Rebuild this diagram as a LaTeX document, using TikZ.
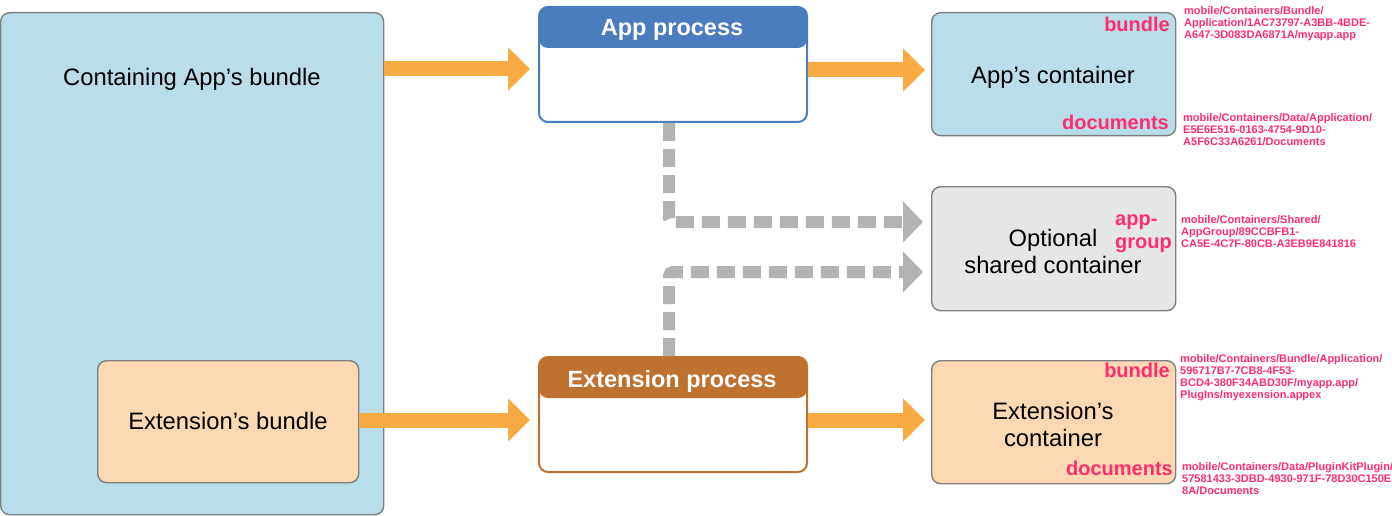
\documentclass[tikz,border=0pt]{standalone}
\usepackage{fontspec}
\setmainfont{Liberation Sans}
\usetikzlibrary{arrows.meta}
\definecolor{lblue}{HTML}{B9DEE9}
\definecolor{peach}{HTML}{FCD9B2}
\definecolor{lgray}{HTML}{E5E6E6}
\definecolor{bord}{HTML}{7F7F7F}
\definecolor{oarr}{HTML}{F8AB43}
\definecolor{garr}{HTML}{B3B3B3}
\definecolor{pblue}{HTML}{4A7DBE}
\definecolor{pbrown}{HTML}{BF712F}
\definecolor{pinkl}{HTML}{FF2D6F}
\tikzset{
  cbox/.style={draw=bord, line width=1.4pt, rounded corners=9pt, inner sep=0pt, anchor=north west},
  mtext/.style={font=\fontsize{23.8}{27}\selectfont, align=center, inner sep=0pt},
  pbox/.style={draw=#1, line width=2pt, rounded corners=9pt, inner sep=0pt, anchor=north west,
    minimum width=268pt, minimum height=115pt, fill=white,
    path picture={\fill[#1] (path picture bounding box.north west) rectangle ([yshift=-41pt]path picture bounding box.north east);}},
  ptitle/.style={font=\bfseries\fontsize{23.5}{25}\selectfont, text=white, inner sep=0pt},
  oarrow/.style={draw=oarr, line width=15pt, -{Triangle[width=42pt,length=22pt]}},
  garrow/.style={draw=garr, line width=12pt, dash pattern=on 18pt off 8pt, rounded corners=4pt, -{Triangle[width=40pt,length=20pt]}},
  plabel/.style={font=\bfseries\fontsize{20}{22}\selectfont, text=pinkl, inner sep=0pt},
  ppath/.style={font=\bfseries\fontsize{11}{12}\selectfont, text=pinkl, inner sep=0pt, align=left, anchor=north west},
}
\begin{document}
\begin{tikzpicture}[x=1pt,y=-1pt]
\useasboundingbox (0,0) rectangle (1392,516);
% left bundles
\node[cbox, fill=lblue, minimum width=383pt, minimum height=502pt] (cab) at (0,12) {};
\node[mtext] (cabt) at (192,79) {Containing App’s bundle};
\node[cbox, fill=peach, minimum width=261pt, minimum height=122pt] (eb) at (97,360) {};
\node[mtext] (ebt) at (228,421) {Extension’s bundle};
% processes
\node[pbox=pblue] (ap) at (538,6) {};
\node[ptitle] (apt) at (672,30) {App process};
\node[pbox=pbrown] (ep) at (538,356) {};
\node[ptitle] (ept) at (672,381) {Extension process};
% containers
\node[cbox, fill=lblue, minimum width=244pt, minimum height=123pt] (apc) at (931,12) {};
\node[mtext] (apct) at (1053,77) {App’s container};
\node[cbox, fill=lgray, minimum width=244pt, minimum height=124pt] (sc) at (931,186) {};
\node[mtext] (sct) at (1053,251) {Optional\\shared container};
\node[cbox, fill=peach, minimum width=244pt, minimum height=123pt] (ec) at (931,360) {};
\node[mtext] (ect) at (1053,424) {Extension’s\\container};
% orange arrows
\draw[oarrow] (cab.east |- 0,69) -- ([xshift=-8pt]ap.west |- 0,69);
\draw[oarrow] (ap.east |- 0,70) -- ([xshift=-6pt]apc.west |- 0,70);
\draw[oarrow] (eb.east |- 0,420) -- ([xshift=-8pt]ep.west |- 0,420);
\draw[oarrow] (ep.east |- 0,420) -- ([xshift=-6pt]ec.west |- 0,420);
% gray dashed arrows
\coordinate (c1) at (669,222);
\coordinate (c2) at (669,272);
\draw[garrow] (ap.south -| c1) -- (c1) -- ([xshift=-8pt]sc.west |- c1);
\draw[garrow] (ep.north -| c2) -- (c2) -- ([xshift=-8pt]sc.west |- c2);
% pink labels
\node[plabel, anchor=base east] (l1) at (1170,32) {bundle};
\node[plabel, anchor=base east] (l2) at (1169,130) {documents};
\node[plabel, anchor=base west] (l3a) at (1115,225) {app-};
\node[plabel, anchor=base west] (l3b) at (1115,248) {group};
\node[plabel, anchor=base east] (l4) at (1170,377) {bundle};
\node[plabel, anchor=base east] (l5) at (1173,475) {documents};
% paths
\node[ppath] (p1) at (1184,6) {mobile/Containers/Bundle/\\Application/1AC73797-A3BB-4BDE-\\A647-3D083DA6871A/myapp.app};
\node[ppath] (p2) at (1183,113) {mobile/Containers/Data/Application/\\E5E6E516-0163-4754-9D10-\\A5F6C33A6261/Documents};
\node[ppath] (p3) at (1181,215) {mobile/Containers/Shared/\\AppGroup/89CCBFB1-\\CA5E-4C7F-80CB-A3EB9E841816};
\node[ppath] (p4) at (1180,354) {mobile/Containers/Bundle/Application/\\596717B7-7CB8-4F53-\\BCD4-380F34ABD30F/myapp.app/\\PlugIns/myexension.appex};
\node[ppath] (p5) at (1182,462) {mobile/Containers/Data/PluginKitPlugin/\\57581433-3DBD-4930-971F-78D30C150E\\8A/Documents};
\end{tikzpicture}
\end{document}
